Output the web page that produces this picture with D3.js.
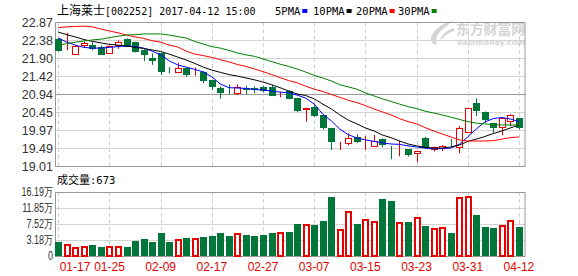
<!DOCTYPE html>
<html><head><meta charset="utf-8">
<script src="https://cdn.jsdelivr.net/npm/d3@7/dist/d3.min.js"></script>
<style>body{margin:0;background:#fff}svg{display:block}</style>
</head><body><svg id="c" width="578" height="276"></svg>
<script>
// ---- data ----
const dates = ["01-17","01-18","01-19","01-20","01-23","01-24","01-25","01-26",
  "02-03","02-06","02-07","02-08","02-09","02-10","02-13","02-14","02-15","02-16","02-17",
  "02-20","02-21","02-22","02-23","02-24","02-27","02-28",
  "03-01","03-02","03-03","03-06","03-07","03-08","03-09","03-10","03-13","03-14","03-15",
  "03-16","03-17","03-20","03-21","03-22","03-23","03-24","03-27","03-28","03-29","03-30","03-31",
  "04-05","04-06","04-07","04-10","04-11","04-12"];
const openP  = [22.42,22.11,22.02,22.25,22.25,22.20,22.05,22.26,22.41,22.33,22.13,21.91,22.03,21.56,21.54,21.64,21.55,21.52,21.31,21.11,21.10,20.97,21.11,21.10,21.14,21.13,20.93,21.02,20.82,20.55,20.60,20.38,20.02,19.60,19.62,19.80,19.68,19.55,19.73,19.55,19.46,19.46,19.35,19.75,19.46,19.48,19.58,19.53,19.93,20.71,20.47,20.17,20.05,20.22,20.29];
const highP  = [22.44,22.58,22.24,22.34,22.33,22.24,22.24,22.38,22.43,22.34,22.14,22.03,22.03,21.66,21.78,21.65,21.65,21.56,21.31,21.14,21.20,21.20,21.16,21.14,21.16,21.18,21.00,21.05,20.83,20.57,20.69,20.38,20.02,19.66,19.88,19.86,19.81,19.84,19.75,19.55,19.69,19.46,19.41,19.79,19.53,19.57,19.73,20.08,20.56,20.82,20.47,20.17,20.29,20.40,20.29];
const lowP   = [22.08,22.11,22.01,22.20,22.11,22.01,22.02,22.15,22.22,22.05,21.82,21.72,21.45,21.49,21.50,21.40,21.43,21.23,21.05,20.81,20.93,20.91,20.93,20.96,20.99,20.89,20.85,20.80,20.45,20.20,20.32,19.99,19.44,19.44,19.57,19.63,19.44,19.55,19.51,19.19,19.27,19.26,19.12,19.46,19.40,19.41,19.55,19.35,19.93,20.35,20.17,19.90,19.84,20.08,19.99];
const closeP = [22.11,22.12,22.23,22.30,22.16,22.02,22.23,22.33,22.24,22.08,22.02,21.84,21.56,21.55,21.63,21.47,21.56,21.31,21.15,21.00,21.09,21.14,21.08,21.07,21.05,20.92,20.94,20.83,20.51,20.56,20.38,20.06,19.68,19.61,19.75,19.69,19.69,19.69,19.60,19.54,19.47,19.33,19.41,19.51,19.53,19.55,19.57,20.02,20.56,20.51,20.26,20.06,20.29,20.37,20.06];
const volume = [2.72,2.10,1.20,1.47,1.82,1.28,1.64,1.55,1.28,2.91,3.45,2.72,5.16,2.72,3.37,3.72,3.72,3.99,4.26,5.16,4.26,5.00,4.54,4.26,4.54,5.16,5.35,5.43,7.52,7.52,7.25,8.33,14.92,6.08,11.04,7.52,8.79,8.33,14.29,13.75,7.98,8.06,9.33,6.98,6.35,6.62,5.16,14.76,15.11,9.96,6.70,6.43,7.17,8.52,6.70];
const ma5  = [22.44,22.33,22.25,22.19,22.17,22.17,22.19,22.21,22.23,22.21,22.17,22.09,21.99,21.83,21.72,21.66,21.60,21.53,21.40,21.21,21.11,21.10,21.09,21.06,21.05,21.02,20.99,20.97,20.91,20.83,20.67,20.40,20.22,20.00,19.85,19.76,19.71,19.67,19.63,19.60,19.59,19.55,19.52,19.49,19.47,19.48,19.49,19.59,19.79,20.00,20.19,20.28,20.31,20.27,20.20];
const ma10 = [22.60,22.53,22.47,22.40,22.35,22.31,22.27,22.25,22.23,22.19,22.16,22.12,22.08,22.01,21.93,21.85,21.76,21.66,21.58,21.52,21.46,21.42,21.37,21.32,21.26,21.19,21.11,21.02,20.94,20.90,20.81,20.67,20.54,20.38,20.24,20.14,20.03,19.95,19.84,19.77,19.68,19.60,19.55,19.51,19.49,19.49,19.52,19.57,19.67,19.73,19.80,19.88,19.95,20.03,20.11];
const ma20 = [22.72,22.74,22.75,22.76,22.74,22.68,22.63,22.58,22.52,22.47,22.43,22.37,22.33,22.25,22.20,22.09,22.01,21.97,21.92,21.86,21.80,21.73,21.68,21.61,21.54,21.46,21.38,21.30,21.24,21.15,21.07,21.01,20.93,20.85,20.77,20.71,20.63,20.54,20.46,20.38,20.28,20.20,20.14,20.04,19.95,19.87,19.79,19.71,19.68,19.68,19.68,19.69,19.73,19.77,19.79];
const ma30 = [22.25,22.29,22.33,22.36,22.39,22.41,22.45,22.49,22.52,22.53,22.55,22.55,22.55,22.52,22.48,22.44,22.35,22.28,22.21,22.17,22.11,22.04,21.99,21.95,21.88,21.81,21.74,21.68,21.61,21.53,21.44,21.37,21.29,21.19,21.13,21.07,20.97,20.89,20.81,20.74,20.67,20.60,20.55,20.48,20.43,20.38,20.32,20.26,20.20,20.16,20.14,20.12,20.11,20.11,20.11];
const priceTicks  = [19.01,19.4925,19.975,20.4575,20.94,21.4225,21.905,22.3875,22.87];
const priceLabels = ["19.01","19.49","19.97","20.45","20.94","21.42","21.90","22.38","22.87"];
const volTicks    = [-1.157,3.18,7.52,11.85,16.19];
const volLabels   = ["0","3.18万","7.52万","11.85万","16.19万"];
const xTickDates  = ["01-17","01-25","02-09","02-17","02-27","03-07","03-15","03-23","03-31","04-12"];
const legendNames = ["5PMA","10PMA","20PMA","30PMA"];
const maColors    = ["#0000ff","#000000","#ff0000","#008000"];
const titleName = "上海莱士", titleRest = "[002252] 2017-04-12 15:00";
const volLabelName = "成交量", volLabelValue = ":673";

// ---- layout ----
const L = 55, R = 525.5, PT = 22, PB = 166, VT = 192, VB = 256;
const RED = "#e60000", GREEN = "#00763a";
const svg = d3.select("#c");
const x = d3.scalePoint().domain(dates).range([58.3, 518.9]);
const y = d3.scaleLinear().domain([19.01, 22.87]).range([PB, PT]);
const yv = d3.scaleLinear().domain([-1.157, 16.19]).range([VB, VT]);

// watermark
const wm = svg.append("g").attr("fill", "#d4d4d4");
wm.append("path").attr("d", "M452,21 C440,24 432,32 431,38 C431,42 434,45 437,45 C435,41 436,36 441,31 C445,27 450,24 452,21 Z M454,28 C447,30 441,35 440,41 C443,37 448,33 454,31 Z");
wm.append("text").attr("x", 456).attr("y", 34).attr("font-family", "Noto Sans CJK SC").attr("font-weight", "bold").attr("font-size", 13.5).text("东方财富网").attr("textLength", 69).attr("lengthAdjust", "spacingAndGlyphs");
wm.append("text").attr("x", 457).attr("y", 45).attr("font-family", "DejaVu Sans").attr("font-weight", "bold").attr("font-size", 7).text("eastmoney.com").attr("textLength", 68).attr("lengthAdjust", "spacingAndGlyphs");

// grids
function hgrid(vals, sc, isMid) {
  svg.append("g").selectAll("line").data(vals).join("line")
    .attr("x1", L).attr("x2", R)
    .attr("y1", d => Math.round(sc(d)) + 0.5).attr("y2", d => Math.round(sc(d)) + 0.5)
    .attr("stroke", (d, i) => isMid && isMid(d, i) ? "#999" : "#d4d4d4");
}
hgrid(priceTicks.slice(1, -1), y, (d, i) => i === 3);
hgrid(volTicks.slice(1, -1), yv);
[[PT, PB], [VT, VB]].forEach(([t, b]) => {
  svg.append("g").selectAll("line").data(xTickDates).join("line")
    .attr("x1", d => Math.round(x(d)) + 0.5).attr("x2", d => Math.round(x(d)) + 0.5)
    .attr("y1", t).attr("y2", b).attr("stroke", "#cfcfcf").attr("stroke-dasharray", "4,3");
  svg.append("rect").attr("x", L + 0.5).attr("y", t + 0.5).attr("width", R - L - 1).attr("height", b - t)
    .attr("fill", "none").attr("stroke", "#999");
});

// axes labels
const ya = svg.append("g").attr("transform", `translate(${L},0)`)
  .call(d3.axisLeft(y).tickValues(priceTicks).tickFormat((d, i) => priceLabels[i]).tickSize(0).tickPadding(2));
ya.select(".domain").remove();
ya.selectAll("text").attr("font-family", "Liberation Sans").attr("font-size", 12.5).attr("fill", "#333");
const va = svg.append("g").attr("transform", `translate(${L},0)`)
  .call(d3.axisLeft(yv).tickValues(volTicks).tickFormat((d, i) => volLabels[i]).tickSize(0).tickPadding(2));
va.select(".domain").remove();
va.selectAll("text").attr("font-family", "Liberation Sans").attr("font-size", 12).attr("fill", "#333")
  .each(function () { const w = this.getComputedTextLength(); this.setAttribute("textLength", w * 0.75); this.setAttribute("lengthAdjust", "spacingAndGlyphs"); });
const xa = svg.append("g").attr("transform", `translate(0,${VB})`)
  .call(d3.axisBottom(x).tickValues(xTickDates).tickSize(0).tickPadding(0));
xa.select(".domain").remove();
xa.selectAll("text").attr("font-family", "Liberation Sans").attr("font-size", 12).attr("fill", RED).attr("dy", 0).attr("y", 15);
xa.selectAll(".tick").attr("transform", d => `translate(${Math.max(x(d), 75)},0)`);

// candles
const cw = 6;
const cg = svg.append("g");
dates.forEach((d, i) => {
  const up = closeP[i] >= openP[i];
  const col = up ? RED : GREEN;
  const xc = Math.round(x(d)) + 0.5;
  cg.append("line").attr("x1", xc).attr("x2", xc).attr("y1", y(highP[i])).attr("y2", y(lowP[i])).attr("stroke", col);
  const yt = y(Math.max(openP[i], closeP[i])), yb = y(Math.min(openP[i], closeP[i]));
  const h = Math.max(0, Math.round(yb) - Math.round(yt));
  cg.append("rect").attr("x", xc - cw / 2).attr("y", Math.round(yt) + 0.5).attr("width", cw).attr("height", h)
    .attr("fill", up ? "#fff" : col).attr("stroke", col);
});

// MA lines
[ma5, ma10, ma20, ma30].forEach((arr, k) => {
  svg.append("path").datum(arr)
    .attr("d", d3.line().x((v, i) => x(dates[i])).y(v => y(v)))
    .attr("fill", "none").attr("stroke", maColors[k]).attr("stroke-width", 1);
});

// volume bars
const vg = svg.append("g");
dates.forEach((d, i) => {
  const up = closeP[i] >= openP[i];
  const xc = Math.round(x(d)) + 0.5;
  const yt = Math.round(yv(volume[i]));
  if (up) {
    vg.append("rect").attr("x", xc - 2.5).attr("y", yt + 1).attr("width", 5).attr("height", VB - yt - 1)
      .attr("fill", "#fff").attr("stroke", RED).attr("stroke-width", 2);
  } else {
    vg.append("rect").attr("x", xc - 3.5).attr("y", yt).attr("width", 7).attr("height", VB - yt).attr("fill", GREEN);
  }
});

// header
const t = svg.append("text").attr("x", 57).attr("y", 15).attr("fill", "#000");
t.append("tspan").attr("font-family", "Noto Sans CJK SC").attr("font-size", 12).text(titleName);
t.append("tspan").attr("font-family", "DejaVu Sans Mono").attr("font-size", 10).text(titleRest);
const lg = svg.append("g");
const legX = [275, 313, 356, 398];
legendNames.forEach((n, k) => {
  const tx = lg.append("text").attr("x", legX[k]).attr("y", 15).attr("font-family", "DejaVu Sans Mono").attr("font-size", 10.5).text(n);
  const w = tx.node().getComputedTextLength();
  lg.append("rect").attr("x", legX[k] + w + 2).attr("y", 9).attr("width", 5).attr("height", 4).attr("fill", maColors[k]);
});
const vt = svg.append("text").attr("x", 57).attr("y", 184).attr("fill", "#000");
vt.append("tspan").attr("font-family", "Noto Sans CJK SC").attr("font-size", 11).text(volLabelName);
vt.append("tspan").attr("font-family", "DejaVu Sans Mono").attr("font-size", 10.5).text(volLabelValue);
</script></body></html>
